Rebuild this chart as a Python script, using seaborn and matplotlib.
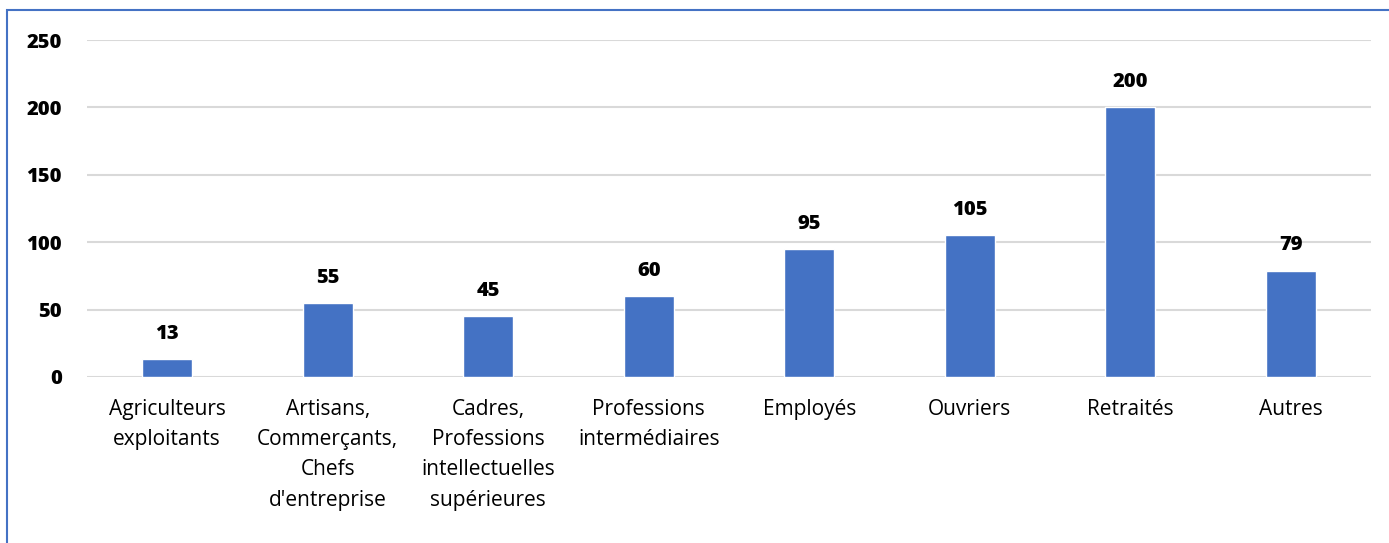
import matplotlib
matplotlib.use("Agg")
import matplotlib.pyplot as plt
import seaborn as sns
import pandas as pd
from matplotlib.patches import Rectangle

categories = ["Agriculteurs\nexploitants", "Artisans,\nCommerçants,\nChefs\nd'entreprise",
              "Cadres,\nProfessions\nintellectuelles\nsupérieures", "Professions\nintermédiaires",
              "Employés", "Ouvriers", "Retraités", "Autres"]
values = [13, 55, 45, 60, 95, 105, 200, 79]
yticks = [0, 50, 100, 150, 200, 250]

sns.set_theme(style="white")
plt.rcParams['font.family'] = ['Open Sans', 'DejaVu Sans']

df = pd.DataFrame({"cat": categories, "val": values})
fig = plt.figure(figsize=(13.89, 5.43), dpi=100)
ax = fig.add_axes([87/1389, 1-377/543, (1371-87)/1389, (377-40)/543])
sns.barplot(data=df, x="cat", y="val", color="#4472C4", width=0.31, ax=ax, saturation=1)

ax.set_ylim(0, 250)
ax.set_yticks(yticks)
ax.set_yticklabels([str(t) for t in yticks], fontsize=14.5, fontweight='heavy', color='black')
ax.yaxis.grid(True, color='#D9D9D9', linewidth=1.5)
ax.set_axisbelow(True)
for s in ax.spines.values():
    s.set_visible(False)
ax.tick_params(axis='y', length=0, pad=18)
ax.tick_params(axis='x', length=0, pad=16, labelsize=15, colors='black')
for lab in ax.get_xticklabels():
    lab.set_linespacing(1.57)
ax.set_xlabel("")
ax.set_ylabel("")

for i, v in enumerate(values):
    ax.annotate(str(v), (i, v), xytext=(0, 11), textcoords='offset points',
                ha='center', va='bottom', fontsize=14.5, fontweight='heavy', color='black')

fig.patches.append(Rectangle((7/1389, -0.1), 1.2, 1-10/543+0.1, transform=fig.transFigure,
                             fill=False, edgecolor='#4472C4', linewidth=1.5))
fig.savefig("out.png", dpi=100)
